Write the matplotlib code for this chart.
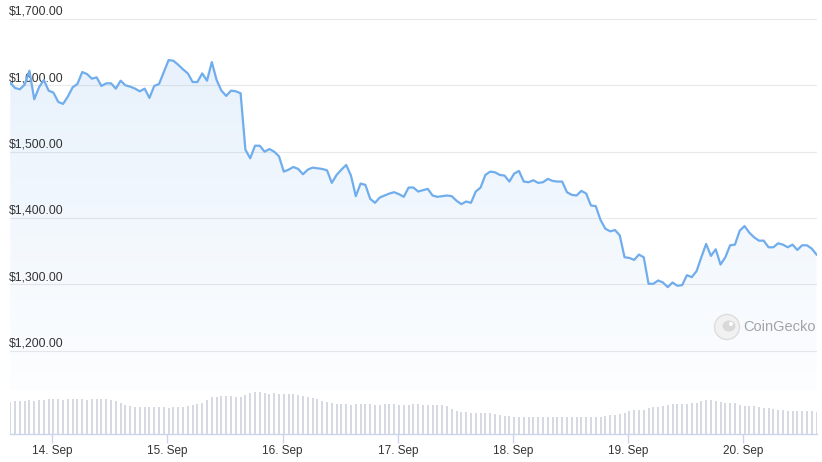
import numpy as np
import pandas as pd
import matplotlib
matplotlib.use("Agg")
import matplotlib.pyplot as plt
import matplotlib.dates as mdates
from matplotlib.patches import Ellipse
from matplotlib.ticker import FuncFormatter

plt.rcParams['font.family'] = ['Liberation Sans', 'DejaVu Sans']

# hourly ETH price (USD), 13 Sep 15:15 -> 20 Sep 15:15
price = [
    1604, 1596, 1594, 1601, 1622, 1579, 1597, 1608, 1592, 1589,
    1575, 1572, 1583, 1597, 1602, 1620, 1617, 1610, 1612, 1599,
    1603, 1603, 1595, 1607, 1600, 1598, 1595, 1591, 1595, 1581,
    1599, 1602, 1620, 1638, 1637, 1631, 1624, 1618, 1605, 1605,
    1618, 1607, 1635, 1608, 1592, 1584, 1592, 1591, 1588, 1503,
    1490, 1509, 1509, 1500, 1504,
    1500, 1493, 1470, 1473, 1477, 1474, 1466, 1473, 1476, 1475,
    1474, 1472, 1453, 1465, 1473, 1480, 1464, 1433, 1452, 1450,
    1429, 1423, 1431, 1434, 1437, 1439, 1436, 1432, 1446, 1446,
    1440, 1442, 1444, 1434, 1432, 1433, 1434, 1433, 1426, 1421,
    1425, 1423, 1440, 1446, 1465, 1470, 1469, 1465,
    1464, 1455, 1467, 1471, 1455, 1454, 1457, 1453, 1454, 1459,
    1456, 1455, 1455, 1439, 1435, 1434, 1441, 1437, 1419, 1418,
    1397, 1384, 1380, 1382, 1374, 1341, 1340, 1337, 1345, 1341,
    1301, 1301, 1306, 1303, 1296, 1303, 1298, 1299, 1314, 1311,
    1320, 1341, 1361, 1343, 1353, 1330, 1341, 1359, 1360, 1381,
    1388, 1378, 1371, 1366, 1366, 1356, 1356, 1362, 1360, 1356,
    1360, 1352, 1359, 1359, 1354, 1345,
]

# hourly volume (relative units)
volume = [
    32, 33, 33, 33, 34, 33,
    34, 34, 35, 35, 35, 34, 35, 35, 35, 35, 34, 35, 35, 35, 35, 34, 33,
    31, 29,
    28, 27, 27, 27, 27, 27, 27, 27, 26, 27, 27, 27, 28,
    29, 30, 31, 34,
    37, 37, 38, 38, 38, 37, 37, 39,
    41, 42, 42, 41,
    40, 41, 40, 40, 40, 40, 39,
    38, 37, 36, 35, 33, 32, 31,
    30, 30, 30, 29, 30, 30, 30, 30, 29, 29, 30, 30, 30, 29, 29, 29,
    30, 30, 29, 29, 29, 29, 29, 28,
    25, 23,
    22, 22, 21, 21, 21, 21, 21, 20, 19,
    18, 18, 17, 17, 17, 17, 17, 17, 17, 17, 17, 17, 17, 17, 17, 17, 17, 17, 17,
    17, 17, 18, 19, 19, 20,
    21, 23, 24, 24, 24, 26, 27, 27, 28,
    29, 30, 30, 30, 30, 31, 31,
    33, 34, 34, 33, 32, 31, 31, 31,
    29, 28, 28, 28, 27, 26, 26,
    25, 24, 24, 23, 23, 23, 23, 23, 23, 22,
]

price_ticks = [1200, 1300, 1400, 1500, 1600, 1700]
day_ticks = pd.date_range("2022-09-14", "2022-09-20", freq="D")

times = pd.date_range("2022-09-13 15:15", periods=len(price), freq="h")
x = mdates.date2num(times.to_pydatetime())
hour = 1 / 24

line_color = '#70aded'
W, H = 822, 462
fig = plt.figure(figsize=(W / 100, H / 100), dpi=100)
fig.patch.set_facecolor('white')

# price pane
ax = fig.add_axes([10 / W, (H - 390) / H, 807 / W, 385 / H])
ax.set_xlim(x[0] - 0.05 * hour, x[-1] + 0.1 * hour)
ymin, ymax = 1141, 1721
ax.set_ylim(ymin, ymax)

for v in price_ticks:
    ax.axhline(v, color='#e9e9e9', lw=0.8, zorder=0)
    ax.annotate(f"${v:,.2f}", xy=(0, v), xycoords=('axes fraction', 'data'),
                xytext=(-0.5, 0.8), textcoords='offset points', ha='left', va='bottom',
                fontsize=8.8, color='#333333', annotation_clip=False)

# gradient area under the line
poly = ax.fill_between(x, price, ymin, color='none', lw=0)
grad = np.linspace(0.02, 0.16, 256).reshape(-1, 1)
rgba = np.zeros((256, 1, 4))
rgba[..., 0], rgba[..., 1], rgba[..., 2] = 0.44, 0.68, 0.93
rgba[..., 3] = grad
img = ax.imshow(rgba, aspect='auto', origin='lower',
                extent=[x[0], x[-1], ymin, max(price)], zorder=1)
img.set_clip_path(poly.get_paths()[0], transform=ax.transData)

ax.plot(x, price, color=line_color, lw=1.6, zorder=3, solid_joinstyle='round')
ax.axis('off')

# volume pane
axv = fig.add_axes([10 / W, (H - 434) / H, 807 / W, 44 / H])
axv.bar(x, volume, width=0.42 * hour, color='#d6d9e1', lw=0)
axv.set_xlim(ax.get_xlim())
axv.set_ylim(0, 44)
for s in ['top', 'left', 'right']:
    axv.spines[s].set_visible(False)
axv.spines['bottom'].set_color('#ccd6eb')
axv.spines['bottom'].set_linewidth(1)
axv.set_yticks([])
axv.set_xticks(mdates.date2num(day_ticks.to_pydatetime()))
axv.xaxis.set_major_formatter(FuncFormatter(
    lambda v, p: f"{mdates.num2date(v).day}. {mdates.num2date(v):%b}"))
axv.tick_params(axis='x', length=6.5, width=1, color='#ccd6eb', labelsize=8.5,
                labelcolor='#333333', pad=1.5)
axv.patch.set_alpha(0)

# CoinGecko watermark
fig.add_artist(Ellipse((727 / W, 1 - 327 / H), 25 / W, 25 / H,
                       facecolor='#f1f1f1', edgecolor='#dddddd', lw=1))
fig.add_artist(Ellipse((729 / W, 1 - 326 / H), 13 / W, 11 / H,
                       facecolor='#d9d9d9', edgecolor='none'))
fig.add_artist(Ellipse((731 / W, 1 - 324 / H), 4 / W, 4 / H,
                       facecolor='white', edgecolor='none'))
fig.text(743 / W, 1 - 327 / H, "CoinGecko", fontsize=10.5, color='#a3a3a3',
         ha='left', va='center')

fig.savefig('out.png', dpi=100)
